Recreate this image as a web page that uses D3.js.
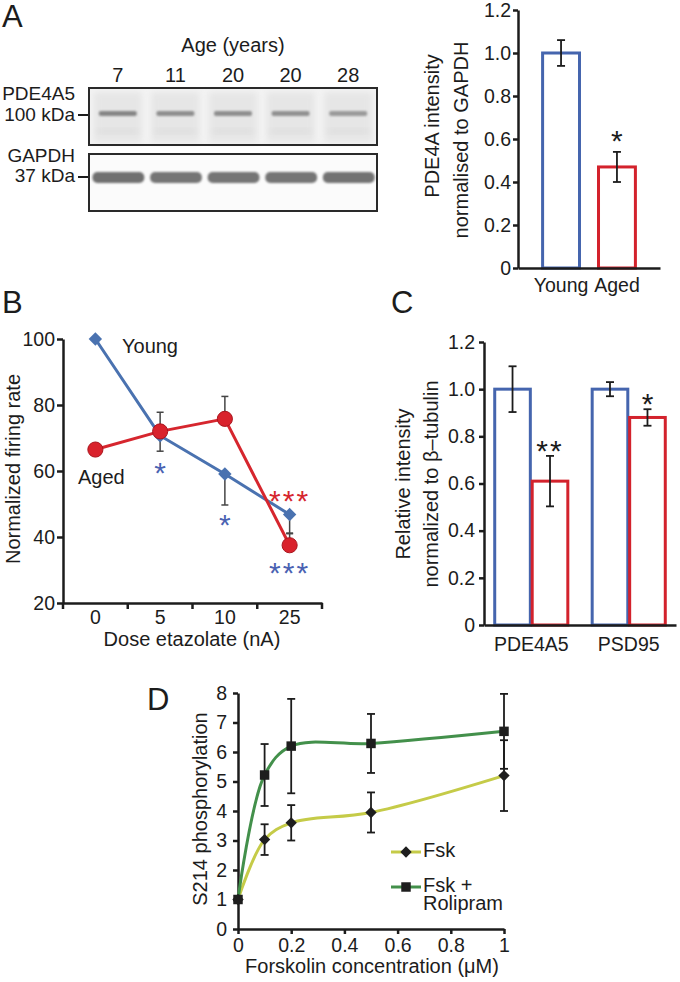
<!DOCTYPE html>
<html>
<head>
<meta charset="utf-8">
<script src="https://cdn.jsdelivr.net/npm/d3@7"></script>
<style>
  body { margin: 0; background: #fff; }
  svg { display: block; }
</style>
</head>
<body>
<div id="fig"></div>
<script>
// ---- data ----
// A, western blot
var laneAges = ["7", "11", "20", "20", "28"];
var pdeBand = [0.56, 0.53, 0.53, 0.52, 0.49];
var gapdhBand = [0.64, 0.62, 0.62, 0.62, 0.63];

// A, bar chart
var aGroups = ["Young", "Aged"];
var aMeans = [1.0, 0.47];
var aErr = [0.06, 0.07];
var aSig = ["", "*"];
var aTicks = [0, 0.2, 0.4, 0.6, 0.8, 1.0, 1.2];

// B, firing rate
var bDoses = ["0", "5", "10", "25"];
var bYoung = [100, 70.7, 59.1, 46.8];
var bYoungErr = [0, 4.7, 9.4, 5.6];
var bAged = [66.5, 72.0, 75.8, 37.5];
var bAgedErr = [0, 5.8, 6.8, 3.5];
var bTicks = [20, 40, 60, 80, 100];
var bSigDose = ["5", "10", "25", "25"];
var bSigText = ["*", "*", "***", "***"];
var bSigAt = [61.8, 46.1, 53.3, 31.5];
var bSigGroup = ["young", "young", "aged", "young"];

// C, relative intensity
var cProteins = ["PDE4A5", "PSD95"];
var cYoung = [1.0, 1.0];
var cYoungErr = [0.097, 0.03];
var cAged = [0.61, 0.88];
var cAgedErr = [0.107, 0.035];
var cSig = ["**", "*"];
var cTicks = [0, 0.2, 0.4, 0.6, 0.8, 1.0, 1.2];

// D, S214 phosphorylation
var dConc = [0, 0.1, 0.2, 0.5, 1];
var dFsk = [1.0, 3.03, 3.6, 3.95, 5.2];
var dFskErr = [0.04, 0.52, 0.6, 0.68, 1.2];
var dRoli = [1.0, 5.22, 6.2, 6.29, 6.7];
var dRoliErr = [0.04, 1.05, 1.6, 1.0, 1.27];
var dYTicks = [0, 1, 2, 3, 4, 5, 6, 7, 8];
var dXTicks = [0, 0.2, 0.4, 0.6, 0.8, 1];

// ---- setup ----
var FONT = "'Liberation Sans', Arial, Helvetica, sans-serif";
var INK = "#1c1c1c";
var BAR_BLUE = "#4565ae", BAR_RED = "#d3222c";
var LINE_BLUE = "#4a72b0", LINE_RED = "#d6262e";
var STAR_BLUE = "#4a62b2";
var FSK = "#c5cb48", ROLI = "#43904b";
var LABEL = 20, TICK = 19.5;

var svg = d3.select("#fig").append("svg")
  .attr("width", 680)
  .attr("height", 982)
  .style("font-family", FONT);

var defs = svg.append("defs");
defs.append("filter").attr("id", "soft").attr("x", "-20%").attr("y", "-100%").attr("width", "140%").attr("height", "300%")
  .append("feGaussianBlur").attr("stdDeviation", 1.1);
defs.append("filter").attr("id", "haze").attr("x", "-20%").attr("y", "-50%").attr("width", "140%").attr("height", "200%")
  .append("feGaussianBlur").attr("stdDeviation", 3);

function txt(x, y, s, size, anchor, color) {
  return svg.append("text")
    .attr("x", x).attr("y", y)
    .attr("font-size", size)
    .attr("text-anchor", anchor || "start")
    .attr("fill", color || INK)
    .text(s);
}

function vtxt(x, y, s, size) {
  return svg.append("text")
    .attr("transform", "translate(" + x + "," + y + ") rotate(-90)")
    .attr("font-size", size)
    .attr("text-anchor", "middle")
    .attr("fill", INK)
    .text(s);
}

// asterisks sit high in the glyph box, so shift baseline down to centre them
function star(x, yc, s, color, size) {
  size = size || 30;
  return svg.append("text")
    .attr("x", x).attr("y", yc + size * 0.6)
    .attr("font-size", size)
    .attr("text-anchor", "middle")
    .attr("fill", color || INK)
    .attr("letter-spacing", s.length > 1 ? 2 : 0)
    .text(s);
}

function styleAxis(g) {
  g.attr("font-family", FONT).attr("font-size", TICK);
  g.select(".domain").attr("stroke", INK).attr("stroke-width", 2.5);
  g.selectAll(".tick line").attr("stroke", INK).attr("stroke-width", 2.5);
  g.selectAll(".tick text").attr("fill", INK);
}

function errBar(g, x, y1, y2, cap, color, width) {
  g.append("line").attr("x1", x).attr("x2", x).attr("y1", y1).attr("y2", y2)
    .attr("stroke", color).attr("stroke-width", width);
  [y1, y2].forEach(function (y) {
    g.append("line").attr("x1", x - cap / 2).attr("x2", x + cap / 2).attr("y1", y).attr("y2", y)
      .attr("stroke", color).attr("stroke-width", width);
  });
}

var fmt1 = function (d) { return d === 0 ? "0" : d3.format(".1f")(d); };

// ---- panel letters ----
txt(2, 27, "A", 31);
txt(2, 313, "B", 31);
txt(391, 313, "C", 31);
txt(147, 710, "D", 31);

// ---- A: blot ----
var lane = d3.scaleBand().domain(d3.range(laneAges.length)).range([89, 377]);
var blot = svg.append("g");

blot.append("text").attr("x", 233).attr("y", 52).attr("font-size", LABEL)
  .attr("text-anchor", "middle").attr("fill", INK).text("Age (years)");
blot.selectAll(".age").data(laneAges).enter().append("text")
  .attr("x", function (d, i) { return lane(i) + lane.step() / 2; })
  .attr("y", 82).attr("font-size", LABEL).attr("text-anchor", "middle").attr("fill", INK)
  .text(function (d) { return d; });

// PDE4A5 box
blot.append("rect").attr("x", 89).attr("y", 88).attr("width", 288).attr("height", 57).attr("fill", "#f3f3f3");
blot.selectAll(".lanebg").data(laneAges).enter().append("rect")
  .attr("x", function (d, i) { return lane(i) + lane.step() * 0.08; })
  .attr("y", 92).attr("width", lane.step() * 0.84).attr("height", 50)
  .attr("fill", "#e6e6e6").attr("filter", "url(#haze)");
blot.selectAll(".faint").data(pdeBand).enter().append("rect")
  .attr("x", function (d, i) { return lane(i) + lane.step() * 0.15; })
  .attr("y", 129).attr("width", lane.step() * 0.7).attr("height", 4)
  .attr("fill", "#dcdcdc").attr("filter", "url(#haze)");
blot.selectAll(".pde").data(pdeBand).enter().append("rect")
  .attr("x", function (d, i) { return lane(i) + lane.step() * 0.17; })
  .attr("y", 111).attr("width", lane.step() * 0.66).attr("height", 5).attr("rx", 2)
  .attr("fill", function (d) { return d3.interpolateGreys(d); })
  .attr("filter", "url(#soft)");
blot.append("rect").attr("x", 89).attr("y", 88).attr("width", 288).attr("height", 57)
  .attr("fill", "none").attr("stroke", "#2a2a2a").attr("stroke-width", 2);

// GAPDH box
blot.append("rect").attr("x", 89).attr("y", 154).attr("width", 288).attr("height", 57).attr("fill", "#fbfbfb");
blot.selectAll(".gapdh").data(gapdhBand).enter().append("rect")
  .attr("x", function (d, i) { return lane(i) + lane.step() * 0.06; })
  .attr("y", 172).attr("width", lane.step() * 0.9).attr("height", 11).attr("rx", 5)
  .attr("fill", function (d) { return d3.interpolateGreys(d); })
  .attr("filter", "url(#soft)");
blot.append("rect").attr("x", 89).attr("y", 154).attr("width", 288).attr("height", 57)
  .attr("fill", "none").attr("stroke", "#2a2a2a").attr("stroke-width", 2);

txt(75, 100, "PDE4A5", 19, "end");
txt(75, 121, "100 kDa", 19, "end");
txt(75, 162, "GAPDH", 19, "end");
txt(75, 182, "37 kDa", 19, "end");
[115, 177].forEach(function (y) {
  blot.append("line").attr("x1", 78).attr("x2", 88).attr("y1", y).attr("y2", y)
    .attr("stroke", INK).attr("stroke-width", 2);
});

// ---- A: bar chart ----
var ya = d3.scaleLinear().domain([0, 1.2]).range([268, 10]);
var xa = d3.scaleBand().domain(aGroups).range([518, 660]).paddingInner(0.34).paddingOuter(0.44);
var ga = svg.append("g");

ga.selectAll(".bar").data(aGroups).enter().append("rect")
  .attr("x", function (d) { return xa(d); })
  .attr("y", function (d, i) { return ya(aMeans[i]); })
  .attr("width", xa.bandwidth())
  .attr("height", function (d, i) { return ya(0) - ya(aMeans[i]); })
  .attr("fill", "#fff")
  .attr("stroke", function (d, i) { return i === 0 ? BAR_BLUE : BAR_RED; })
  .attr("stroke-width", 3);

aGroups.forEach(function (d, i) {
  var cx = xa(d) + xa.bandwidth() / 2;
  errBar(ga, cx, ya(aMeans[i] - aErr[i]), ya(aMeans[i] + aErr[i]), 8, INK, 1.8);
  if (aSig[i]) star(cx, ya(aMeans[i] + aErr[i]) - 19, aSig[i], INK, 30);
});

ga.append("g").attr("transform", "translate(518,0)")
  .call(d3.axisLeft(ya).tickValues(aTicks).tickFormat(fmt1).tickSize(5).tickPadding(2).tickSizeOuter(0))
  .call(styleAxis);
ga.append("g").attr("transform", "translate(0," + ya(0) + ")")
  .call(d3.axisBottom(xa).tickSize(0).tickPadding(10).tickSizeOuter(0))
  .call(styleAxis);

vtxt(439, 126, "PDE4A intensity", LABEL);
vtxt(468, 140, "normalised to GAPDH", LABEL);

// ---- B: firing rate ----
var xb = d3.scaleBand().domain(bDoses).range([63, 322]);
var yb = d3.scaleLinear().domain([20, 100]).range([603, 339]);
var gb = svg.append("g");
var bx = function (dose) { return xb(dose) + xb.bandwidth() / 2; };

gb.append("g").attr("transform", "translate(63,0)")
  .call(d3.axisLeft(yb).tickValues(bTicks).tickSize(6).tickPadding(2).tickSizeOuter(0))
  .call(styleAxis);
gb.append("g").attr("transform", "translate(0,603)")
  .call(d3.axisBottom(xb).tickSize(0).tickPadding(7).tickSizeOuter(0))
  .call(styleAxis);
gb.selectAll(".bound").data(d3.range(bDoses.length + 1)).enter().append("line")
  .attr("x1", function (i) { return xb.range()[0] + i * xb.step(); })
  .attr("x2", function (i) { return xb.range()[0] + i * xb.step(); })
  .attr("y1", 603).attr("y2", 609)
  .attr("stroke", INK).attr("stroke-width", 2.5);

var lineB = d3.line().x(function (d) { return bx(d.dose); }).y(function (d) { return yb(d.v); });
var youngPts = bDoses.map(function (d, i) { return { dose: d, v: bYoung[i], e: bYoungErr[i] }; });
var agedPts = bDoses.map(function (d, i) { return { dose: d, v: bAged[i], e: bAgedErr[i] }; });

// error bars: young hang down, aged go up
function halfBar(p, dir) {
  if (!p.e) return;
  var x = bx(p.dose), y0 = yb(p.v), y1 = yb(p.v + dir * p.e);
  gb.append("line").attr("x1", x).attr("x2", x).attr("y1", y0).attr("y2", y1).attr("stroke", "#454545").attr("stroke-width", 1.5);
  gb.append("line").attr("x1", x - 3.5).attr("x2", x + 3.5).attr("y1", y1).attr("y2", y1).attr("stroke", "#454545").attr("stroke-width", 1.5);
}
youngPts.forEach(function (p) { halfBar(p, -1); });
agedPts.forEach(function (p) { halfBar(p, 1); });

gb.append("path").datum(youngPts).attr("d", lineB)
  .attr("fill", "none").attr("stroke", LINE_BLUE).attr("stroke-width", 3);
gb.selectAll(".ymark").data(youngPts).enter().append("path")
  .attr("d", d3.symbol(d3.symbolSquare, 90))
  .attr("transform", function (d) { return "translate(" + bx(d.dose) + "," + yb(d.v) + ") rotate(45)"; })
  .attr("fill", LINE_BLUE);

gb.append("path").datum(agedPts).attr("d", lineB)
  .attr("fill", "none").attr("stroke", LINE_RED).attr("stroke-width", 3);
gb.selectAll(".amark").data(agedPts).enter().append("path")
  .attr("d", d3.symbol(d3.symbolCircle, 180))
  .attr("transform", function (d) { return "translate(" + bx(d.dose) + "," + yb(d.v) + ")"; })
  .attr("fill", "#d9222c").attr("stroke", "#a9151d").attr("stroke-width", 1);

bSigText.forEach(function (s, i) {
  star(bx(bSigDose[i]), yb(bSigAt[i]), s, bSigGroup[i] === "aged" ? LINE_RED : STAR_BLUE, 30);
});

txt(122, 353, "Young", LABEL);
txt(78, 484, "Aged", LABEL);
vtxt(20, 469, "Normalized firing rate", LABEL);
txt(192, 646, "Dose etazolate (nA)", LABEL, "middle");

// ---- C: relative intensity ----
var yc = d3.scaleLinear().domain([0, 1.2]).range([625, 342]);
var xc = d3.scaleBand().domain(cProteins).range([484, 676]).paddingInner(0.25).paddingOuter(0.11);
var xs = d3.scaleBand().domain(["Young", "Aged"]).range([0, xc.bandwidth()]).paddingInner(0.05);
var gc = svg.append("g");

cProteins.forEach(function (p, i) {
  var groups = [
    { k: "Young", v: cYoung[i], e: cYoungErr[i], c: BAR_BLUE },
    { k: "Aged", v: cAged[i], e: cAgedErr[i], c: BAR_RED }
  ];
  groups.forEach(function (b) {
    var x = xc(p) + xs(b.k);
    gc.append("rect").attr("x", x).attr("y", yc(b.v))
      .attr("width", xs.bandwidth()).attr("height", yc(0) - yc(b.v))
      .attr("fill", "#fff").attr("stroke", b.c).attr("stroke-width", 3);
  });
  groups.forEach(function (b) {
    var cx = xc(p) + xs(b.k) + xs.bandwidth() / 2;
    errBar(gc, cx, yc(b.v - b.e), yc(b.v + b.e), 8, INK, 1.8);
  });
  var ax = xc(p) + xs("Aged") + xs.bandwidth() / 2;
  star(ax, yc(cAged[i] + cAgedErr[i]) - 13, cSig[i], INK, 30);
});

gc.append("g").attr("transform", "translate(484,0)")
  .call(d3.axisLeft(yc).tickValues(cTicks).tickFormat(fmt1).tickSize(5).tickPadding(4).tickSizeOuter(0))
  .call(styleAxis);
gc.append("g").attr("transform", "translate(0," + yc(0) + ")")
  .call(d3.axisBottom(xc).tickSize(0).tickPadding(12).tickSizeOuter(0))
  .call(styleAxis);

vtxt(410, 484, "Relative intensity", LABEL);
vtxt(438, 484, "normalized to \u03b2\u2013tubulin", LABEL);

// ---- D: S214 phosphorylation ----
var xd = d3.scaleLinear().domain([0, 1]).range([238, 504]);
var yd = d3.scaleLinear().domain([0, 8]).range([929, 693]);
var gd = svg.append("g");

gd.append("g").attr("transform", "translate(238,0)")
  .call(d3.axisLeft(yd).tickValues(dYTicks).tickSize(5).tickPadding(6).tickSizeOuter(0))
  .call(styleAxis);
gd.append("g").attr("transform", "translate(0,929)")
  .call(d3.axisBottom(xd).tickValues(dXTicks).tickFormat(function (d) { return String(d); })
    .tickSize(5).tickPadding(4).tickSizeOuter(0))
  .call(styleAxis);

var fskPts = dConc.map(function (c, i) { return { c: c, v: dFsk[i], e: dFskErr[i] }; });
var roliPts = dConc.map(function (c, i) { return { c: c, v: dRoli[i], e: dRoliErr[i] }; });
var curveD = d3.line().curve(d3.curveCatmullRom.alpha(0.5))
  .x(function (d) { return xd(d.c); }).y(function (d) { return yd(d.v); });

gd.append("path").datum(fskPts).attr("d", curveD)
  .attr("fill", "none").attr("stroke", FSK).attr("stroke-width", 3);
gd.append("path").datum(roliPts).attr("d", curveD)
  .attr("fill", "none").attr("stroke", ROLI).attr("stroke-width", 3);

fskPts.concat(roliPts).forEach(function (p) {
  if (p.e < 0.1) return;
  errBar(gd, xd(p.c), yd(p.v - p.e), yd(p.v + p.e), 8, INK, 1.8);
});

gd.selectAll(".fmark").data(fskPts).enter().append("path")
  .attr("d", d3.symbol(d3.symbolSquare, 64))
  .attr("transform", function (d) { return "translate(" + xd(d.c) + "," + yd(d.v) + ") rotate(45)"; })
  .attr("fill", "#1e1e1e");
gd.selectAll(".rmark").data(roliPts).enter().append("path")
  .attr("d", d3.symbol(d3.symbolSquare, 90))
  .attr("transform", function (d) { return "translate(" + xd(d.c) + "," + yd(d.v) + ")"; })
  .attr("fill", "#1e1e1e");

// legend (two-line entry kept in one text element)
var legend = [
  { name: ["Fsk"], color: FSK, shape: "diamond", y: 852 },
  { name: ["Fsk +", "Rolipram"], color: ROLI, shape: "square", y: 887 }
];
legend.forEach(function (l) {
  gd.append("line").attr("x1", 391).attr("x2", 421).attr("y1", l.y).attr("y2", l.y)
    .attr("stroke", l.color).attr("stroke-width", 3);
  gd.append("path")
    .attr("d", d3.symbol(d3.symbolSquare, l.shape === "diamond" ? 64 : 90))
    .attr("transform", "translate(406," + l.y + ")" + (l.shape === "diamond" ? " rotate(45)" : ""))
    .attr("fill", "#1e1e1e");
  var t = gd.append("text").attr("y", l.y + 5).attr("font-size", LABEL).attr("fill", INK);
  l.name.forEach(function (s, j) {
    t.append("tspan").attr("x", 423).attr("dy", j === 0 ? 0 : 18).text(s);
  });
});

vtxt(207, 809, "S214 phosphorylation", LABEL);
txt(372, 973, "Forskolin concentration (\u03bcM)", LABEL, "middle");
</script>
</body>
</html>
